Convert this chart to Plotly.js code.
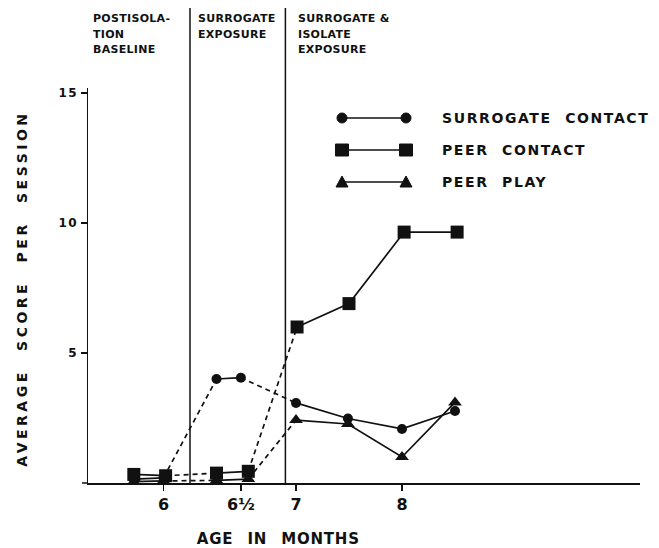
<!DOCTYPE html>
<html><head><meta charset="utf-8">
<script src="https://cdn.plot.ly/plotly-3.0.1.min.js"></script>
<style>body{margin:0;background:#fff}</style>
</head><body><div id="chart" style="width:659px;height:548px"></div>
<script>
// ---- data ----
const ageSurrogate = [5.47, 5.75, 6.25, 6.48, 7.0, 7.49, 8.0, 8.5];
const surrogateContact = [0.15, 0.2, 4.0, 4.05, 3.08, 2.48, 2.08, 2.77];
const agePeerContact = [5.47, 5.77, 6.25, 6.55, 7.01, 7.5, 8.02, 8.52];
const peerContact = [0.33, 0.28, 0.38, 0.45, 6.0, 6.9, 9.65, 9.65];
const agePeerPlay = [5.47, 5.75, 6.25, 6.55, 7.0, 7.49, 8.0, 8.5];
const peerPlay = [0.05, 0.08, 0.1, 0.15, 2.42, 2.27, 1.0, 3.1];
const phaseStarts = [0, 2, 4];          // index where each phase starts
const phaseBounds = [6.0, 6.9];         // phase divider positions on the age axis
const phaseLabels = ['POSTISOLA-<br>TION<br>BASELINE', 'SURROGATE<br>EXPOSURE', 'SURROGATE &amp;<br>ISOLATE<br>EXPOSURE'];
const xTickVals = [5.75, 6.48, 7, 8];
const xTickText = ['6', '6½', '7', '8'];
const yTickVals = [5, 10, 15];
const seriesNames = ['SURROGATE CONTACT', 'PEER CONTACT', 'PEER PLAY'];
const seriesSymbols = ['circle', 'square', 'triangle-up'];
const seriesSizes = [10, 13, 12];
const xTitle = 'AGE IN MONTHS';
const yTitle = 'AVERAGE SCORE PER SESSION';

const FONT = 'DejaVu Sans';
const ink = '#111';

function seriesTraces(x, y, symbol, size) {
  const out = [];
  const bounds = phaseStarts.concat([x.length]);
  for (let p = 1; p < phaseStarts.length; p++) {
    const a = phaseStarts[p] - 1, b = phaseStarts[p];
    out.push({x: [x[a], x[b]], y: [y[a], y[b]], mode: 'lines', type: 'scatter',
      line: {color: ink, width: 1.7, dash: '5px,4px'}, hoverinfo: 'skip', showlegend: false});
  }
  for (let p = 0; p < phaseStarts.length; p++) {
    const s = bounds[p], e = bounds[p + 1];
    out.push({x: x.slice(s, e), y: y.slice(s, e), mode: 'lines+markers', type: 'scatter',
      line: {color: ink, width: 1.7}, marker: {symbol: symbol, size: size, color: ink},
      showlegend: false});
  }
  return out;
}

const data = [].concat(
  seriesTraces(ageSurrogate, surrogateContact, seriesSymbols[0], seriesSizes[0]),
  seriesTraces(agePeerContact, peerContact, seriesSymbols[1], seriesSizes[1]),
  seriesTraces(agePeerPlay, peerPlay, seriesSymbols[2], seriesSizes[2])
);

const L = 88, R = 640, T = 88, B = 483;
const px2paperX = p => (p - L) / (R - L);
const px2paperY = p => (B - p) / (B - T);

const shapes = [];
phaseBounds.forEach(v => shapes.push({type: 'line', xref: 'x', yref: 'paper', x0: v, x1: v,
  y0: 0, y1: px2paperY(8), line: {color: ink, width: 1.5}}));
shapes.push({type: 'line', xref: 'paper', yref: 'paper', x0: px2paperX(82), x1: 0, y0: 0, y1: 0,
  line: {color: ink, width: 1.5}});

const annotations = [];
phaseLabels.forEach((t, i) => annotations.push({text: t, xref: 'paper', yref: 'paper',
  x: px2paperX([91, 196, 296][i]), y: px2paperY(10), xanchor: 'left', yanchor: 'top', align: 'left',
  showarrow: false, font: {family: FONT, size: 11, color: ink, weight: 'bold'}}));

const legRows = [118, 150, 182];
legRows.forEach((py, i) => {
  const yp = px2paperY(py);
  shapes.push({type: 'line', xref: 'paper', yref: 'paper', x0: px2paperX(342), x1: px2paperX(406),
    y0: yp, y1: yp, line: {color: ink, width: 1.7}});
  [342, 406].forEach(pxx => {
    const xa = px2paperX(pxx);
    const base = {xref: 'paper', yref: 'paper', xsizemode: 'pixel', ysizemode: 'pixel',
      xanchor: xa, yanchor: yp, fillcolor: ink, line: {color: ink, width: 1}};
    if (i === 0) shapes.push(Object.assign({type: 'circle', x0: -5, x1: 5, y0: -5, y1: 5}, base));
    else if (i === 1) shapes.push(Object.assign({type: 'rect', x0: -6.5, x1: 6.5, y0: -6, y1: 6}, base));
    else shapes.push(Object.assign({type: 'path', path: 'M-6,-5L6,-5L0,6Z'}, base));
  });
  annotations.push({text: seriesNames[i], xref: 'paper', yref: 'paper', x: px2paperX(440), y: yp,
    xanchor: 'left', yanchor: 'middle', align: 'left', showarrow: false,
    font: {family: FONT, size: 14, color: ink, weight: 'bold'}});
});

annotations.push({text: xTitle, xref: 'paper', yref: 'paper', x: px2paperX(278), y: px2paperY(539),
  xanchor: 'center', yanchor: 'middle', showarrow: false,
  font: {family: FONT, size: 15, color: ink, weight: 'bold'}});
annotations.push({text: yTitle, xref: 'paper', yref: 'paper', x: px2paperX(22), y: px2paperY(289),
  xanchor: 'center', yanchor: 'middle', textangle: -90, showarrow: false,
  font: {family: FONT, size: 14, color: ink, weight: 'bold'}});

const layout = {
  width: 659, height: 548,
  margin: {l: L, r: 659 - R, t: T, b: 548 - B},
  paper_bgcolor: '#fff', plot_bgcolor: '#fff',
  showlegend: false,
  font: {family: FONT, color: ink},
  xaxis: {range: [7 - (296 - L) / 106, 7 + (R - 296) / 106], showgrid: false, zeroline: false,
    showline: true, linecolor: ink, linewidth: 1.5, ticks: 'outside', ticklen: 6, tickwidth: 1.5,
    tickcolor: ink, tickvals: xTickVals, ticktext: xTickText,
    tickfont: {family: FONT, size: 16, color: ink, weight: 'bold'}},
  yaxis: {range: [0, (B - T) / 26], showgrid: false, zeroline: false,
    showline: true, linecolor: ink, linewidth: 1.5, ticks: 'outside', ticklen: 6, tickwidth: 1.5,
    tickcolor: ink, tickvals: yTickVals,
    tickfont: {family: FONT, size: 12, color: ink, weight: 'bold'}},
  shapes: shapes,
  annotations: annotations
};

Plotly.newPlot('chart', data, layout, {staticPlot: true}).then(gd => {
  gd.querySelectorAll('.ytick text').forEach(t => { t.style.letterSpacing = '1.5px'; });
  const n = annotations.length;
  gd.querySelectorAll('.annotation').forEach(a => {
    const idx = +a.getAttribute('data-index');
    a.querySelectorAll('text').forEach(t => {
      if (idx < 3) {
        t.style.letterSpacing = '0.3px';
        t.querySelectorAll('tspan.line').forEach((s, k) => { if (k > 0) s.setAttribute('dy', (1.42 * k).toFixed(2) + 'em'); });
      }
      else if (idx < 6) { t.style.letterSpacing = '1.6px'; t.style.wordSpacing = '7px'; }
      else if (idx === n - 2) { t.style.letterSpacing = '0.8px'; t.style.wordSpacing = '8px'; }
      else { t.style.letterSpacing = '3.5px'; t.style.wordSpacing = '10px'; }
    });
  });
});
</script></body></html>
